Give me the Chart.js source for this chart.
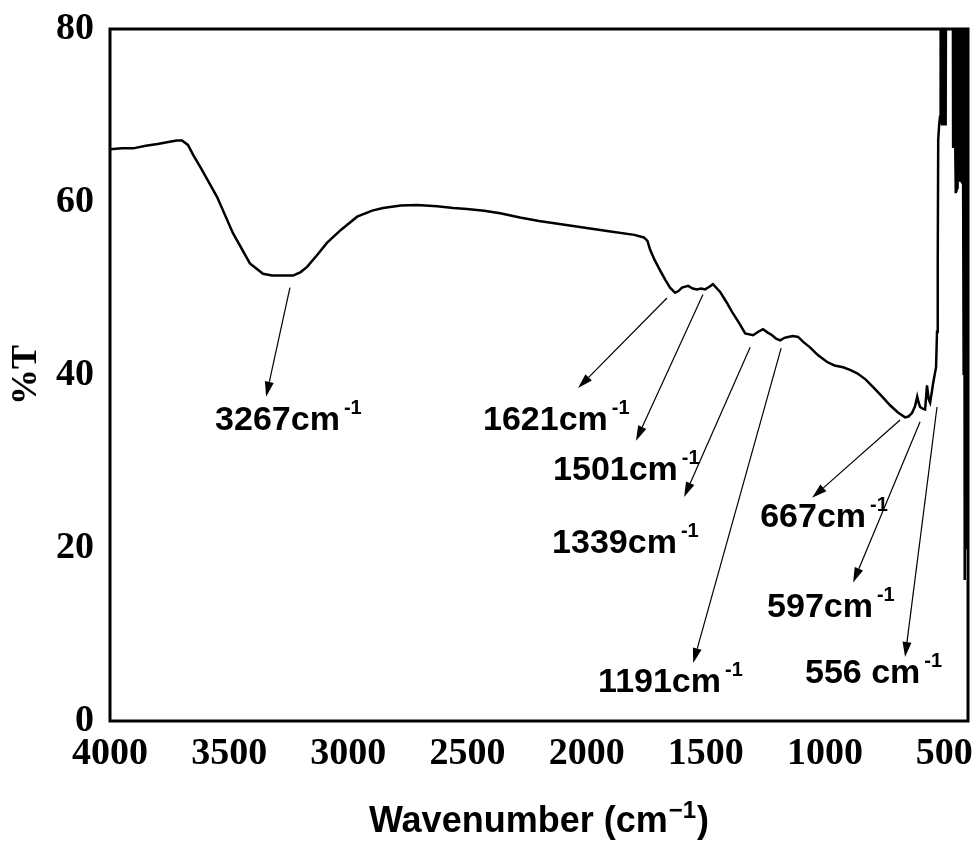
<!DOCTYPE html>
<html>
<head>
<meta charset="utf-8">
<script src="https://cdn.jsdelivr.net/npm/chart.js@4.4.1/dist/chart.umd.min.js"></script>
<style>
  html, body { margin: 0; padding: 0; background: #fff; }
</style>
</head>
<body>
<canvas id="ftir" width="978" height="841"></canvas>
<script>
// FTIR spectrum (wavenumber in cm-1, transmittance in %)
const wavenumber = [
  4000, 3950, 3903, 3850, 3800, 3761, 3720, 3698, 3673, 3650, 3622, 3551, 3484, 3413, 3358, 3320,
  3287, 3232, 3200, 3173, 3130, 3089, 3030, 2963, 2900, 2854, 2780, 2712, 2628, 2560, 2502, 2430,
  2363, 2280, 2200, 2100, 2000, 1900, 1800, 1760, 1745, 1734, 1715, 1692, 1670, 1650, 1629, 1615,
  1600, 1574, 1555, 1537, 1520, 1503, 1485, 1470, 1440, 1415, 1390, 1360, 1335, 1302, 1280, 1260,
  1240, 1222, 1205, 1188, 1170, 1155, 1135, 1113, 1090, 1063, 1030, 991, 960, 924, 895, 865,
  830, 798, 760, 727, 695, 664, 650, 635, 622, 613, 607, 601, 590, 580, 572, 565,
  559, 552, 546, 540, 534, 530, 527, 525, 521,
  517, 515.5, 514, 512.5, 511, 509.5, 508, 506.5, 505, 503.5, 502, 500.5, 499, 497.5, 496, 494.5,
  493, 491, 485, 478, 470, 464, 462.5, 461, 459.5, 458, 456.5, 455, 453.5, 452, 450.5, 449,
  447.5, 446, 444.5, 443, 441.5, 440, 438.5, 437, 435.5, 434, 432.5, 431, 429.5, 428, 426.5, 425,
  423.5, 422, 420.5, 419, 417.5, 416, 414.5, 413, 411.5, 410, 408.5, 407, 405.5, 404, 402, 400
];
const transmittance = [
  66.1, 66.2, 66.2, 66.5, 66.7, 66.9, 67.1, 67.1, 66.6, 65.4, 64.1, 60.6, 56.4, 52.9, 51.7, 51.5,
  51.5, 51.5, 51.9, 52.5, 53.9, 55.3, 56.8, 58.3, 59.0, 59.3, 59.6, 59.65, 59.5, 59.3, 59.2, 59.0,
  58.7, 58.2, 57.8, 57.4, 57.0, 56.6, 56.2, 55.9, 55.5, 54.5, 53.3, 52.1, 51.0, 50.1, 49.5, 49.7,
  50.1, 50.3, 50.0, 49.9, 50.0, 49.9, 50.2, 50.5, 49.6, 48.5, 47.3, 46.0, 44.8, 44.6, 45.0, 45.3,
  44.9, 44.6, 44.2, 44.0, 44.3, 44.4, 44.5, 44.4, 43.8, 43.2, 42.3, 41.5, 41.1, 40.9, 40.6, 40.2,
  39.5, 38.6, 37.5, 36.5, 35.7, 35.1, 35.2, 35.6, 36.4, 37.5, 36.8, 36.3, 36.1, 36.0, 38.8, 37.2,
  36.8, 38.0, 39.1, 40.0, 40.9, 45.0, 52.5, 67.2, 68.9,
  70, 96, 69, 97, 69.5, 96, 69, 97, 69.5, 96, 69, 97, 69.5, 96, 69, 97,
  70, 96, 94, 96, 94, 95, 66.4, 97, 66.5, 96, 66.4, 97, 66.5, 96, 61, 97,
  61.2, 96, 61.5, 97, 62.5, 96, 62.6, 97, 62.5, 96, 62.6, 97, 62.5, 96, 62.6, 97,
  62.5, 96, 63, 97, 40, 96, 16.3, 97, 20, 96, 60, 97, 62, 96, 62, 96
];

const xTicks = [4000, 3500, 3000, 2500, 2000, 1500, 1000, 500];
const yTicks = [0, 20, 40, 60, 80];

// peak annotations: arrow from the band to the label, label anchored at its left baseline
const peakText = ['3267cm', '1621cm', '1501cm', '1339cm', '1191cm', '667cm', '597cm', '556 cm'];
const arrowFromX = [3245, 1663, 1512, 1314, 1184, 685, 601, 530];
const arrowFromY = [50.1, 48.9, 49.3, 43.2, 43.1, 34.8, 34.6, 36.3];
const arrowToX = [3345, 2036, 1793, 1591, 1553, 1054, 882, 664];
const arrowToY = [37.5, 38.5, 32.4, 25.9, 6.7, 25.8, 16.0, 7.4];
const labelX = [3559, 2435, 2141, 2145, 1952, 1272, 1243, 1084];
const labelY = [33.6, 33.6, 27.9, 19.4, 3.35, 22.4, 12.0, 4.4];

const serif = "'Liberation Serif', 'Times New Roman', serif";
const sans = "'Liberation Sans', Arial, sans-serif";

const points = wavenumber.map((w, i) => ({ x: w, y: transmittance[i] }));

const decorPlugin = {
  id: 'decor',
  afterDatasetsDraw(chart) {
    const { ctx, chartArea: a, scales: { x, y } } = chart;
    ctx.save();

    // frame round the plot
    ctx.strokeStyle = '#000';
    ctx.lineWidth = 3;
    ctx.strokeRect(a.left, a.top, a.right - a.left, a.bottom - a.top);

    // arrows
    ctx.lineWidth = 1.2;
    ctx.fillStyle = '#000';
    for (let i = 0; i < peakText.length; i++) {
      const x0 = x.getPixelForValue(arrowFromX[i]);
      const y0 = y.getPixelForValue(arrowFromY[i]);
      const x1 = x.getPixelForValue(arrowToX[i]);
      const y1 = y.getPixelForValue(arrowToY[i]);
      const ang = Math.atan2(y1 - y0, x1 - x0);
      const len = 15, half = 4.5;
      const bx = x1 - len * Math.cos(ang);
      const by = y1 - len * Math.sin(ang);
      ctx.beginPath();
      ctx.moveTo(x0, y0);
      ctx.lineTo(bx, by);
      ctx.stroke();
      ctx.beginPath();
      ctx.moveTo(x1, y1);
      ctx.lineTo(bx + half * Math.sin(ang), by - half * Math.cos(ang));
      ctx.lineTo(bx - half * Math.sin(ang), by + half * Math.cos(ang));
      ctx.closePath();
      ctx.fill();
    }

    // peak labels with superscript -1
    ctx.textAlign = 'left';
    ctx.textBaseline = 'alphabetic';
    for (let i = 0; i < peakText.length; i++) {
      const lx = x.getPixelForValue(labelX[i]);
      const ly = y.getPixelForValue(labelY[i]);
      ctx.font = 'bold 34px ' + sans;
      ctx.fillText(peakText[i], lx, ly);
      const w = ctx.measureText(peakText[i]).width;
      ctx.font = 'bold 20px ' + sans;
      ctx.fillText('-1', lx + w + 4, ly - 16);
    }

    // axis titles
    const title = 'Wavenumber (cm';
    ctx.font = 'bold 36px ' + sans;
    const w1 = ctx.measureText(title).width;
    const w3 = ctx.measureText(')').width;
    ctx.font = 'bold 24px ' + sans;
    const w2 = ctx.measureText('\u22121').width;
    const cx = (a.left + a.right) / 2;
    let tx = cx - (w1 + w2 + w3 + 2) / 2;
    const ty = 832;
    ctx.font = 'bold 36px ' + sans;
    ctx.fillText(title, tx, ty);
    ctx.font = 'bold 24px ' + sans;
    ctx.fillText('\u22121', tx + w1 + 1, ty - 14);
    ctx.font = 'bold 36px ' + sans;
    ctx.fillText(')', tx + w1 + w2 + 2, ty);

    ctx.translate(27, (a.top + a.bottom) / 2);
    ctx.rotate(-Math.PI / 2);
    ctx.textAlign = 'center';
    ctx.textBaseline = 'middle';
    ctx.font = 'bold 36px ' + serif;
    ctx.fillText('%T', 0, 0);

    ctx.restore();
  }
};

new Chart(document.getElementById('ftir'), {
  type: 'line',
  data: {
    datasets: [{
      data: points,
      borderColor: '#000',
      borderWidth: 2.5,
      pointRadius: 0,
      tension: 0,
      fill: false
    }]
  },
  options: {
    responsive: false,
    animation: false,
    layout: { padding: { top: 29, right: 10, left: 0, bottom: 0 } },
    plugins: { legend: { display: false }, tooltip: { enabled: false } },
    scales: {
      x: {
        type: 'linear',
        reverse: true,
        min: 400,
        max: 4000,
        afterBuildTicks: (s) => { s.ticks = xTicks.map(v => ({ value: v })); },
        afterFit: (s) => { s.height = 120; s.paddingLeft = 0; s.paddingRight = 0; },
        grid: { display: false, drawTicks: false },
        border: { display: false },
        ticks: {
          padding: 10, color: '#000', maxRotation: 0,
          font: { family: serif, size: 38, weight: 'bold' },
          callback: (v) => String(v)
        }
      },
      y: {
        min: 0,
        max: 80,
        afterBuildTicks: (s) => { s.ticks = yTicks.map(v => ({ value: v })); },
        afterFit: (s) => { s.width = 110; s.paddingTop = 0; s.paddingBottom = 0; },
        grid: { display: false, drawTicks: false },
        border: { display: false },
        ticks: {
          padding: 16, color: '#000',
          font: { family: serif, size: 38, weight: 'bold' },
          callback: (v) => String(v)
        }
      }
    }
  },
  plugins: [decorPlugin]
});
</script>
</body>
</html>
